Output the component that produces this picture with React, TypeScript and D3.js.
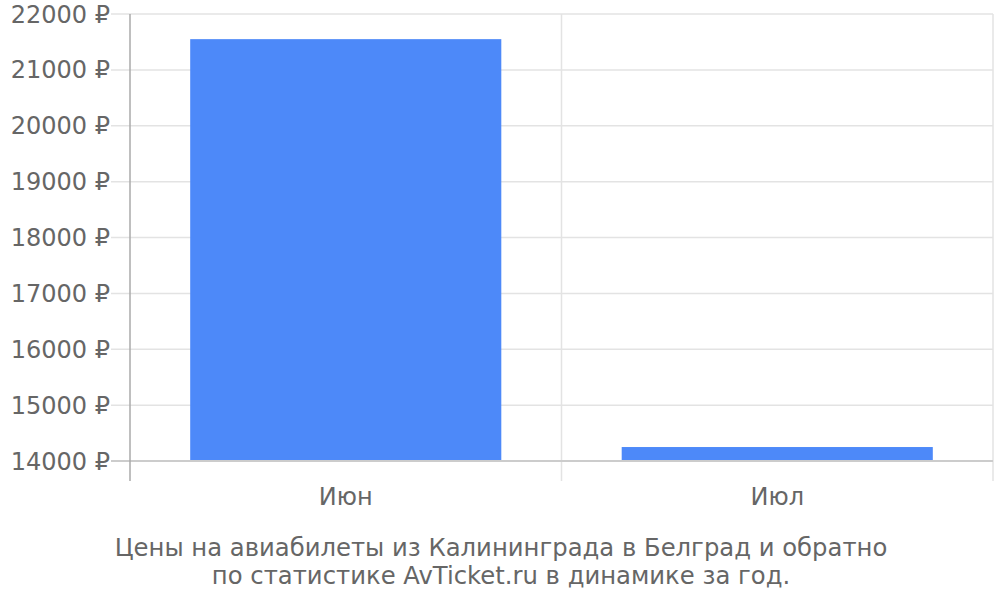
import * as d3 from "d3";
import React from "react";

const months = ["Июн", "Июл"];
const prices = [21550, 14250];
const yTicks = [14000, 15000, 16000, 17000, 18000, 19000, 20000, 21000, 22000];
const titleLines = [
    "Цены на авиабилеты из Калининграда в Белград и обратно",
    "по статистике AvTicket.ru в динамике за год.",
];

const App = () => {
    const width = 1000, height = 600;
    const plot = { left: 130, right: 993, top: 14, bottom: 461 };
    const font = "'DejaVu Sans', sans-serif";
    const textColor = "#666666";

    const x = d3.scaleBand<string>()
        .domain(months)
        .range([plot.left, plot.right])
        .paddingInner(0.279)
        .paddingOuter(0.1395);

    const y = d3.scaleLinear()
        .domain([14000, 22000])
        .range([plot.bottom, plot.top]);

    const step = (plot.right - plot.left) / months.length;
    const vLines = d3.range(months.length + 1).map(i => plot.left + i * step);

    return (
        <svg width={width} height={height} style={{ position: "absolute", left: 0, top: 0 }}>
            <rect x={0} y={0} width={width} height={height} fill="#ffffff" />
            {yTicks.map(t => (
                <line key={"g" + t} x1={111} x2={plot.right} y1={y(t)} y2={y(t)}
                    stroke="#e3e3e3" strokeWidth={1.5} />
            ))}
            {vLines.slice(1).map((v, i) => (
                <line key={"v" + i} x1={v} x2={v} y1={plot.top} y2={481}
                    stroke="#e3e3e3" strokeWidth={1.5} />
            ))}
            {months.map((m, i) => (
                <rect key={m} x={x(m)} y={y(prices[i])} width={x.bandwidth()}
                    height={plot.bottom - y(prices[i])} fill="#4d89f9" />
            ))}
            <line x1={111} x2={plot.right} y1={plot.bottom} y2={plot.bottom} stroke="#cccccc" strokeWidth={2} />
            <line x1={plot.left} x2={plot.left} y1={plot.top} y2={481} stroke="#aaaaaa" strokeWidth={1.5} />
            {yTicks.map(t => (
                <text key={"t" + t} x={110} y={y(t) + 8.5} textAnchor="end"
                    fontFamily={font} fontSize={24} fill={textColor}>
                    {t + " ₽"}
                </text>
            ))}
            {months.map(m => (
                <text key={"l" + m} x={x(m)! + x.bandwidth() / 2} y={505} textAnchor="middle"
                    fontFamily={font} fontSize={24} fill={textColor}>
                    {m}
                </text>
            ))}
            {titleLines.map((line, i) => (
                <text key={"h" + i} x={501} y={556 + i * 28} textAnchor="middle"
                    fontFamily={font} fontSize={24.3} fill={textColor}>
                    {line}
                </text>
            ))}
        </svg>
    );
};

export default App;
